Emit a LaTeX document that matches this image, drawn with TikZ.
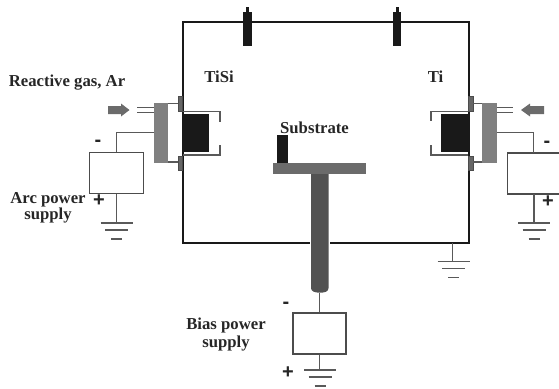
\documentclass[tikz,border=0pt]{standalone}
\usepackage{fontspec}
\setmainfont{Liberation Serif}
\newfontfamily\signfont{Liberation Sans}
\tikzset{
  px/.style={x=1pt,y=-1pt},
  lbl/.style={font=\fontsize{16.7}{16}\selectfont\bfseries,text=black!85,inner sep=0pt,align=center},
  sign/.style={font=\fontsize{20}{20}\selectfont\signfont\bfseries,text=black!85,inner sep=0pt},
  wire/.style={draw=black!65,line width=1.4pt},
  psu/.style={draw=black!70,line width=1.4pt,fill=white},
  wall/.style={draw=black!90,line width=2pt},
  flange/.style={fill=black!60,draw=black!70,line width=.4pt},
  target/.style={fill=black!90},
  plate/.style={fill=black!50},
  gasarrow/.style={fill=black!58},
}
\newcommand{\grd}[2]{% centre x, top y
  \draw[wire] (#1-16,#2) -- (#1+16,#2);
  \draw[wire] (#1-11.5,#2+7) -- (#1+11.5,#2+7);
  \draw[wire] (#1-5.5,#2+16) -- (#1+5.5,#2+16);
}
\begin{document}
\begin{tikzpicture}[px]
\useasboundingbox (0,0) rectangle (559,388);
% chamber
\draw[wall] (182.5,22.3) rectangle (468.8,243);
% top feedthroughs
\foreach \n/\x in {a/247.5,b/397}{
  \fill[black!90] (\x-1.5,7) rectangle (\x+1.5,13);
  \fill[target] (\x-4.4,12) rectangle (\x+4.4,45.5);
}
% left source
\fill[target] (183,114) rectangle (209,152);
\draw[wire] (183,111.7) -- (220,111.7) -- (220,122);
\draw[wire] (183,155) -- (220,155) -- (220,145);
\path[flange] (177.7,96) rectangle (182.5,110.7);
\path[flange] (177.7,155.7) rectangle (182.5,170);
\draw[wire] (168,103.5) -- (178,103.5);
\draw[wire] (168,162) -- (178,162);
\path[plate] (154,102.7) rectangle (168,162.7);
\draw[wire] (137,107.7) -- (154,107.7);
\draw[wire] (137,112.3) -- (154,112.3);
\path[gasarrow] (108,106) -- (121,106) -- (121,103.5) -- (129.5,110) -- (121,116.5) -- (121,114) -- (108,114) -- cycle;
\node[psu,minimum width=53.5pt,minimum height=41pt,inner sep=0pt] (arcbox) at (116.5,173) {};
\coordinate (arcW) at (154,132.3);
\coordinate (arcG) at (116.5,223);
\draw[wire] (arcW) -| (arcbox.north);
\draw[wire] (arcbox.south) -- (arcG);
\grd{116.5}{223}
\node[sign] (arcm) at (98,143) {-};
\node[sign] (arcp) at (99,201) {+};
% right source
\fill[target] (441,114) rectangle (468,152);
\draw[wire] (468,111.7) -- (431,111.7) -- (431,121);
\draw[wire] (468,155) -- (431,155) -- (431,145);
\path[flange] (468.5,96) rectangle (473.3,110.7);
\path[flange] (468.5,155.7) rectangle (473.3,170);
\draw[wire] (473,103.5) -- (482,103.5);
\draw[wire] (473,162) -- (482,162);
\path[plate] (481.7,102.7) rectangle (496.5,163);
\draw[wire] (496.5,107.7) -- (513,107.7);
\draw[wire] (496.5,112.3) -- (513,112.3);
\path[gasarrow] (544,106) -- (530,106) -- (530,103.5) -- (521,110) -- (530,116.5) -- (530,114) -- (544,114) -- cycle;
\draw[psu] (559.5,153) -- (507.5,153) -- (507.5,194) -- (559.5,194);
\coordinate (rT) at (533.5,153);
\coordinate (rB) at (534,194);
\coordinate (rW) at (496.5,132.3);
\coordinate (rG) at (534,223);
\draw[wire] (rW) -| (rT);
\draw[wire] (rB) -- (rG);
\grd{534}{223}
\node[sign] (rm) at (547,144.5) {-};
\node[sign] (rp) at (548,202) {+};
% chamber ground
\coordinate (cG0) at (452.7,243);
\coordinate (cG) at (452.7,261.7);
\draw[wire] (cG0) -- (cG);
\grd{453.5}{261.7}
% substrate holder
\fill[target] (276.7,135) rectangle (288,163);
\fill[black!58] (273,162.7) rectangle (365.7,174);
\fill[white] (309.5,241) rectangle (330,245);
\path[fill=black!68] (311,174) -- (328.5,174) -- (328.5,288) .. controls (328.5,291.5) and (325,292.7) .. (320,292.7) .. controls (315,292.7) and (311,291.5) .. (311,288) -- cycle;
\node[psu,minimum width=53pt,minimum height=41pt,inner sep=0pt] (bias) at (319.5,333.5) {};
\coordinate (colB) at (319.5,292.7);
\coordinate (bG) at (319.5,370);
\draw[wire] (colB) -- (bias.north);
\draw[wire] (bias.south) -- (bG);
\grd{320}{370}
\node[sign] (bm) at (286,305) {-};
\node[sign] (bp) at (288,373) {+};
% labels
\node[lbl] (gas) at (67,82.5) {Reactive gas, Ar};
\node[lbl] (arc) at (48,207.5) {Arc power\\supply};
\node[lbl] (tisi) at (219,77) {TiSi};
\node[lbl] (ti) at (435.5,77) {Ti};
\node[lbl] (sub) at (314.5,128) {Substrate};
\node[lbl] (bl) at (226,335) {Bias power\\[2pt]supply};
\end{tikzpicture}
\end{document}
